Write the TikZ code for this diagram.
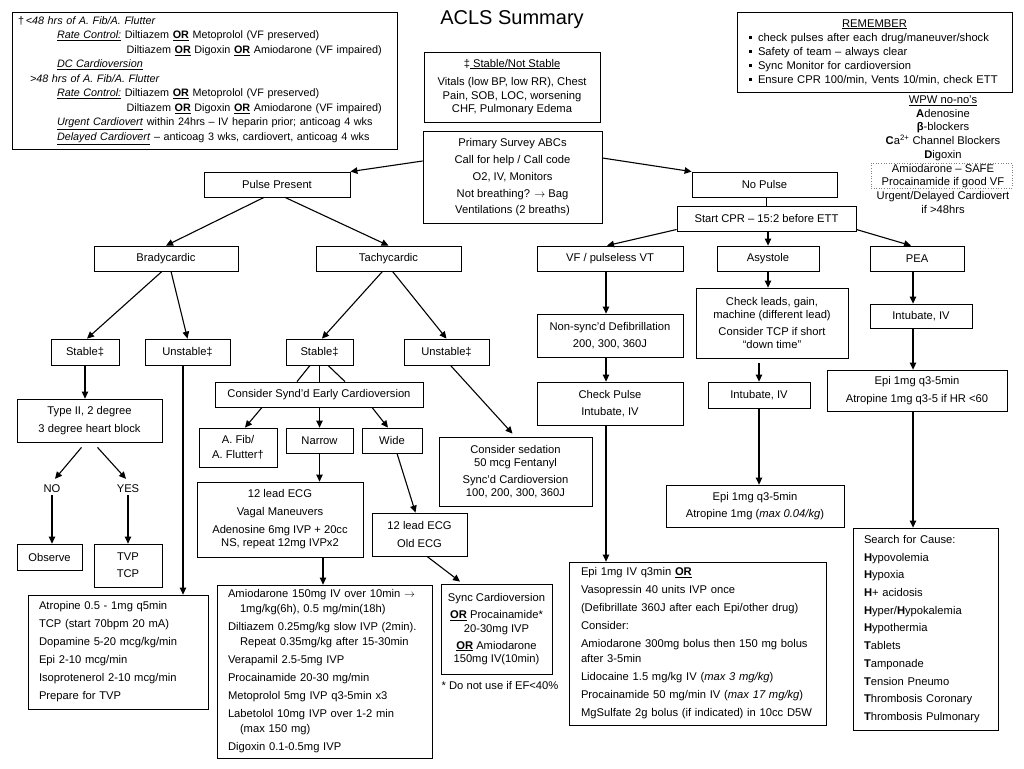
\documentclass[tikz,border=0pt]{standalone}
\usepackage{fontspec}
\setmainfont{Liberation Sans}
\usetikzlibrary{arrows.meta,calc}
\newcommand{\ORu}{\underline{\textbf{OR}}}
\newcommand{\bul}{\makebox[9pt][l]{\raisebox{2pt}{\rule{3pt}{3pt}}}}
\begin{document}
\begin{tikzpicture}[x=1pt,y=-1pt,
  box/.style={draw, line width=0.8pt, inner sep=0pt, align=center, font=\fontsize{11.2}{13.5}\selectfont},
  lbox/.style={draw, line width=0.8pt, inner ysep=0pt, align=left},
  sz/.style 2 args={minimum width=#1pt, minimum height=#2pt},
  arr/.style={line width=1.1pt, -{Triangle[length=7pt,width=6.5pt]}},
  ln/.style={line width=1.1pt},
  lbl/.style={inner sep=2pt, font=\fontsize{11.2}{13.5}\selectfont}]
\fill[white] (0,0) rectangle (1024,768);
\useasboundingbox (0,0) rectangle (1024,768);

% title
\node[inner sep=0pt, font=\fontsize{20}{24}\selectfont] (title) at (512,20) {ACLS Summary};

% top-left A-fib box
\node[lbox, sz={385}{137}, inner xsep=6pt, text width=373pt, font=\fontsize{10.8}{14.5}\selectfont] (afib) at (204.5,80.5) {%
†\,\textit{<48 hrs of A. Fib/A. Flutter}\\
\hspace*{39pt}\underline{\textit{Rate Control:}} Diltiazem \ORu{} Metoprolol (VF preserved)\\
\hspace*{39pt}\phantom{\textit{Rate Control:} }Diltiazem \ORu{} Digoxin \ORu{} Amiodarone (VF impaired)\\
\hspace*{39pt}\underline{\textit{DC Cardioversion}}\\
\hspace*{12pt}\textit{>48 hrs of A. Fib/A. Flutter}\\
\hspace*{39pt}\underline{\textit{Rate Control:}} Diltiazem \ORu{} Metoprolol (VF preserved)\\
\hspace*{39pt}\phantom{\textit{Rate Control:} }Diltiazem \ORu{} Digoxin \ORu{} Amiodarone (VF impaired)\\
\hspace*{39pt}\underline{\textit{Urgent Cardiovert}} within 24hrs – IV heparin prior; anticoag 4 wks\\
\hspace*{39pt}\underline{\textit{Delayed Cardiovert}} – anticoag 3 wks, cardiovert, anticoag 4 wks};

% REMEMBER box
\node[lbox, sz={275}{80}, inner xsep=12pt, text width=251pt, font=\fontsize{11.2}{14}\selectfont] (remember) at (874.5,52) {%
\makebox[251pt]{\underline{REMEMBER}}\\
\bul check pulses after each drug/maneuver/shock\\
\bul Safety of team – always clear\\
\bul Sync Monitor for cardioversion\\
\bul Ensure CPR 100/min, Vents 10/min, check ETT};

% WPW
\node[draw, dotted, line width=0.6pt, gray, sz={141}{25}, inner sep=0pt] (wpwbox) at (941.5,175.5) {};
\node[inner sep=0pt, align=center, font=\fontsize{11.2}{13.7}\selectfont] (wpw) at (943,154.5) {%
\underline{WPW no-no’s}\\\textbf{A}denosine\\\textbf{β}-blockers\\\textbf{C}a\textsuperscript{2+} Channel Blockers\\\textbf{D}igoxin\\Amiodarone – SAFE\\Procainamide if good VF\\Urgent/Delayed Cardiovert\\if >48hrs};

% center top
\node[box, sz={176}{70}] (stab) at (512,87) {‡\underline{ Stable/Not Stable}\\[5pt]Vitals (low BP, low RR), Chest\\Pain, SOB, LOC, worsening\\CHF, Pulmonary Edema};
\node[box, sz={179}{92}] (primary) at (512.5,177) {Primary Survey ABCs\\[3.5pt]Call for help / Call code\\[3.5pt]O2, IV, Monitors\\[3.5pt]Not breathing? $\rightarrow$ Bag\\[2pt]Ventilations (2 breaths)};

% level 1/2
\node[box, sz={146}{25}] (pulse) at (277,184.5) {Pulse Present};
\node[box, sz={145}{25}] (nopulse) at (764.5,184.5) {No Pulse};
\node[box, sz={179}{25}] (cpr) at (766.5,218.5) {Start CPR – 15:2 before ETT};
\node[box, sz={144}{25}] (brady) at (166,258.5) {Bradycardic};
\node[box, sz={145}{25}] (tachy) at (388.5,258.5) {Tachycardic};
\node[box, sz={146}{25}] (vf) at (610,258.5) {VF / pulseless VT};
\node[box, sz={102}{25}] (asys) at (768,258.5) {Asystole};
\node[box, sz={94}{25}] (pea) at (917,258.5) {PEA};

% level 3
\node[box, sz={68}{26}] (stabL) at (85,352) {Stable‡};
\node[box, sz={85}{26}] (unstL) at (187.5,352) {Unstable‡};
\node[box, sz={67}{26}] (stabM) at (319.5,352) {Stable‡};
\node[box, sz={85}{26}] (unstM) at (446.5,352) {Unstable‡};
\node[box, sz={146}{43}] (nonsync) at (610,335.5) {Non-sync’d Defibrillation\\[4pt]200, 300, 360J};
\node[box, sz={152}{70}] (checkleads) at (772,323) {Check leads, gain,\\machine (different lead)\\[3pt]Consider TCP if short\\“down time”};
\node[box, sz={102}{24}] (intP) at (921,316) {Intubate, IV};
\node[box, sz={180}{41}] (epiP) at (917,390.5) {Epi 1mg q3-5min\\[4pt]Atropine 1mg q3-5 if HR <60};

% level 4
\node[box, sz={208}{25}] (synd) at (319,394.5) {Consider Synd’d Early Cardioversion};
\node[box, sz={146}{43}] (checkpulse) at (610,403.5) {Check Pulse\\[4pt]Intubate, IV};
\node[box, sz={102}{26}] (intA) at (759,395) {Intubate, IV};
\node[box, sz={145}{43}] (typeII) at (89.5,420.5) {Type II, 2 degree\\[4pt]3 degree heart block};
\node[box, sz={78}{39}] (afibn) at (238,447.5) {A. Fib/\\[1.5pt]A. Flutter†};
\node[box, sz={67}{25}] (narrow) at (319.5,440.5) {Narrow};
\node[box, sz={60}{25}] (wide) at (392,440.5) {Wide};
\node[box, sz={153}{69}] (sedation) at (515.5,471.5) {Consider sedation\\50 mcg Fentanyl\\[3pt]Sync’d Cardioversion\\100, 200, 300, 360J};
\node[box, sz={166}{75}] (lead12) at (280,519.5) {12 lead ECG\\[4pt]Vagal Maneuvers\\[4.5pt]Adenosine 6mg IVP + 20cc\\NS, repeat 12mg IVPx2};
\node[box, sz={178}{42}] (epiA) at (755,506) {Epi 1mg q3-5min\\[4pt]Atropine 1mg (\textit{max 0.04/kg})};
\node[box, sz={95}{43}] (oldecg) at (419.5,534.5) {12 lead ECG\\[4pt]Old ECG};

\node[lbl] (no) at (52,489) {NO};
\node[lbl] (yes) at (128,489) {YES};
\node[box, sz={65}{26}] (observe) at (49.5,557) {Observe};
\node[box, sz={68}{43}] (tvp) at (128,565.5) {TVP\\[3.5pt]TCP};

% bottom boxes
\node[lbox, sz={257}{163}, inner xsep=12pt, text width=233pt, font=\fontsize{11.2}{15}\selectfont] (epiVF) at (697.5,643.5) {%
Epi 1mg IV q3min \ORu\\[3pt]
Vasopressin 40 units IVP once\\[3pt]
(Defibrillate 360J after each Epi/other drug)\\[3pt]
Consider:\\[3pt]
Amiodarone 300mg bolus then 150 mg bolus\\
after 3-5min\\[3pt]
Lidocaine 1.5 mg/kg IV (\textit{max 3 mg/kg})\\[3pt]
Procainamide 50 mg/min IV (\textit{max 17 mg/kg})\\[3pt]
MgSulfate 2g bolus (if indicated) in 10cc D5W};
\node[box, sz={111}{90}] (sync) at (496.5,629) {Sync Cardioversion\\[4pt]\ORu{} Procainamide*\\20-30mg IVP\\[3.5pt]\ORu{} Amiodarone\\150mg IV(10min)};
\node[lbl] (note) at (500,685) {* Do not use if EF<40\%};
\node[lbox, sz={145}{202}, inner xsep=11pt, text width=123pt, font=\fontsize{11.2}{17.7}\selectfont] (search) at (925.5,629) {%
Search for Cause:\\\textbf{H}ypovolemia\\\textbf{H}ypoxia\\\textbf{H}+ acidosis\\\textbf{H}yper/\textbf{H}ypokalemia\\\textbf{H}ypothermia\\\textbf{T}ablets\\\textbf{T}amponade\\\textbf{T}ension Pneumo\\\textbf{T}hrombosis Coronary\\\textbf{T}hrombosis Pulmonary};
\node[lbox, sz={180}{114}, inner xsep=11pt, text width=158pt, font=\fontsize{11.2}{18}\selectfont] (atropine) at (118,652) {%
Atropine 0.5 - 1mg q5min\\TCP (start 70bpm 20 mA)\\Dopamine 5-20 mcg/kg/min\\Epi 2-10 mcg/min\\Isoprotenerol 2-10 mcg/min\\Prepare for TVP};
\node[lbox, sz={215}{173}, inner xsep=11pt, text width=193pt, font=\fontsize{11.2}{15}\selectfont] (amio) at (324.5,671.5) {%
Amiodarone 150mg IV over 10min $\rightarrow$\\
\hspace*{12pt}1mg/kg(6h), 0.5 mg/min(18h)\\[3pt]
Diltiazem 0.25mg/kg slow IVP (2min).\\
\hspace*{12pt}Repeat 0.35mg/kg after 15-30min\\[3pt]
Verapamil 2.5-5mg IVP\\[3pt]
Procainamide 20-30 mg/min\\[3pt]
Metoprolol 5mg IVP q3-5min x3\\[3pt]
Labetolol 10mg IVP over 1-2 min\\
\hspace*{12pt}(max 150 mg)\\[3pt]
Digoxin 0.1-0.5mg IVP};

% connectors
\draw[arr] ([yshift=16pt]primary.west) -- (pulse.north east);
\draw[arr] ([yshift=19pt]primary.east) -- (nopulse.north west);
\draw[arr] ([xshift=-13pt]pulse.south) -- (brady.north);
\draw[arr] ([xshift=8pt]pulse.south) -- (tachy.north);
\draw[arr] ([xshift=-4pt]brady.south) -- ([xshift=2pt]stabL.north);
\draw[arr] ([xshift=5pt]brady.south) -- (unstL.north);
\draw[arr] (stabL.south) -- (stabL.south |- typeII.north);
\draw[arr] ([xshift=-8pt,yshift=-5pt]typeII.south) -- ([xshift=3pt,yshift=4pt]no.north);
\draw[arr] ([xshift=8pt,yshift=-5pt]typeII.south) -- ([xshift=-2pt,yshift=4pt]yes.north);
\draw[arr] (no.south) -- (no.south |- observe.north);
\draw[arr] (yes.south) -- (yes.south |- tvp.north);
\coordinate (u1) at ([xshift=-4.5pt]unstL.south);
\draw[arr] (u1) -- (u1 |- atropine.north);
\draw[arr] ([xshift=-6pt]tachy.south) -- ([xshift=2.5pt]stabM.north);
\draw[arr] ([xshift=4pt]tachy.south) -- (unstM.north);
\draw[ln] ([xshift=-9.5pt]stabM.south) -- ([xshift=-22pt]synd.north);
\draw[ln] (stabM.south) -- (stabM.south |- synd.north);
\draw[ln] ([xshift=8.5pt]stabM.south) -- ([xshift=26pt]synd.north);
\draw[arr] ([xshift=-57pt]synd.south) -- ([xshift=7pt]afibn.north);
\draw[arr] (narrow.north |- synd.south) -- (narrow.north);
\draw[arr] ([xshift=53pt]synd.south) -- ([xshift=-4pt]wide.north);
\draw[arr] (narrow.south) -- (narrow.south |- lead12.north);
\coordinate (a1) at ([xshift=-1.5pt]amio.north);
\draw[arr] (a1 |- lead12.south) -- (a1);
\draw[arr] ([xshift=5pt]wide.south) -- ([xshift=-4pt]oldecg.north);
\draw[arr] ([xshift=7.5pt]oldecg.south) -- ([xshift=-36.5pt,yshift=2pt]sync.north);
\draw[arr] ([xshift=4pt]unstM.south) -- ([xshift=-3pt,yshift=3pt]sedation.north);
\draw[ln] (cpr.north |- nopulse.south) -- (cpr.north);
\draw[arr] ([yshift=-11pt]cpr.west) -- ([xshift=-3pt]vf.north);
\draw[arr] (asys.north |- cpr.south) -- (asys.north);
\draw[arr] ([yshift=-11pt]cpr.east) -- ([xshift=-6pt]pea.north);
\coordinate (v1) at ([xshift=-4pt]vf.south);
\draw[arr] (v1) -- (v1 |- nonsync.north);
\draw[arr] (v1 |- nonsync.south) -- (v1 |- checkpulse.north);
\draw[arr] (v1 |- checkpulse.south) -- (v1 |- epiVF.north);
\draw[arr] (asys.south) -- (asys.south |- checkleads.north);
\draw[arr] ($(intA.north |- checkleads.south)+(0,5)$) -- (intA.north);
\draw[arr] (intA.south) -- (intA.south |- epiA.north);
\coordinate (p1) at ([xshift=-4pt]pea.south);
\draw[arr] (p1) -- (p1 |- intP.north);
\draw[arr] (p1 |- intP.south) -- (p1 |- epiP.north);
\draw[arr] (p1 |- epiP.south) -- (p1 |- search.north);
\end{tikzpicture}
\end{document}
